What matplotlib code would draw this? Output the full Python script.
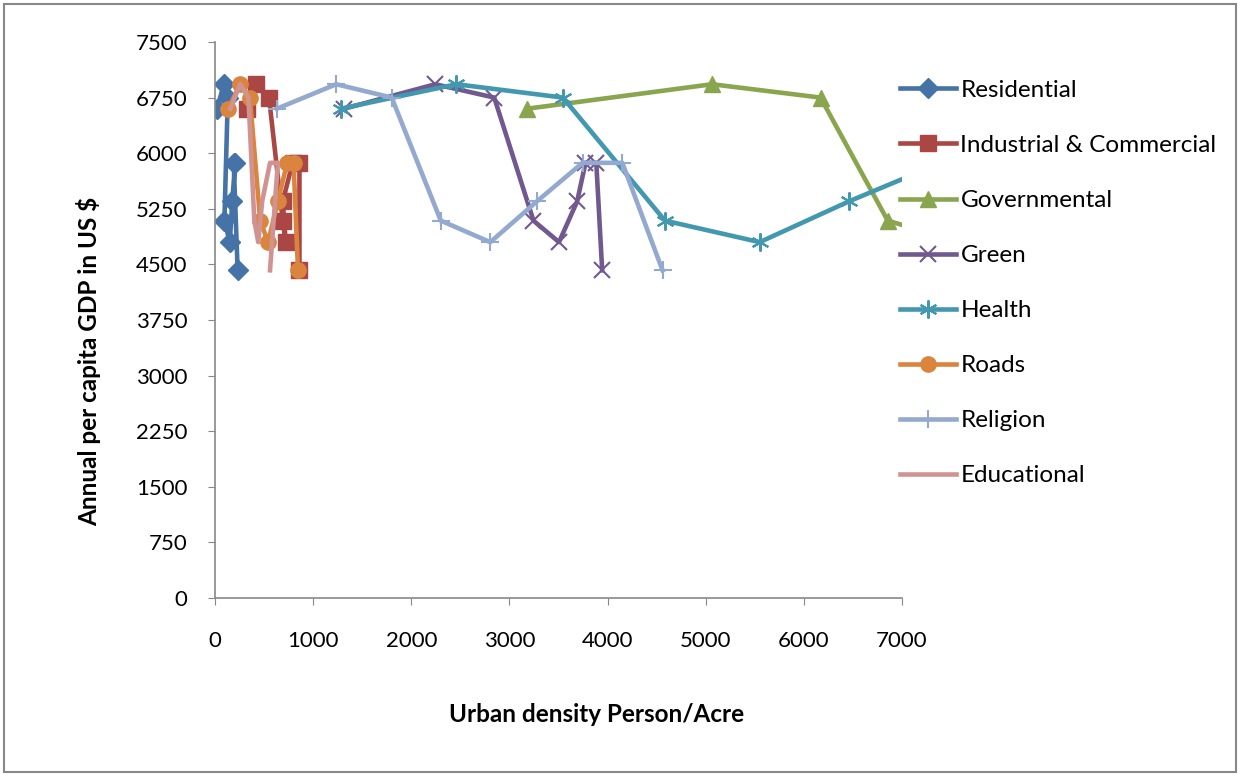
import matplotlib.pyplot as plt
from matplotlib.patches import Rectangle

plt.rcParams['font.family'] = ['Lato', 'DejaVu Sans']

# GDP values (same sequence for every land use)
gdp = [6600, 6930, 6750, 5090, 4800, 5350, 5870, 5870, 4420]

# urban density per land use, Person/Acre
residential = [20, 90, 130, 95, 150, 175, 205, 190, 230]
industrial = [330, 420, 550, 690, 720, 690, 790, 860, 860]
governmental = [3180, 5065, 6170, 6855, 7600, 8200, 8900, 9300, 9900]
green = [1315, 2245, 2845, 3245, 3505, 3690, 3775, 3885, 3945]
health = [1280, 2460, 3545, 4585, 5550, 6460, 7400, 7800, 8300]
roads = [135, 255, 355, 460, 540, 640, 735, 800, 845]
religion = [630, 1235, 1800, 2300, 2805, 3280, 3745, 4150, 4560]
educational = [155, 255, 340, 400, 440, 480, 560, 640, 560]

series = [
    ('Residential', residential, '#4572A7', 'D', 10, 1),
    ('Industrial & Commercial', industrial, '#AA4643', 's', 11, 1),
    ('Governmental', governmental, '#89A54E', '^', 11, 1),
    ('Green', green, '#71588F', 'x', 11, 1.5),
    ('Health', health, '#4198AF', (6, 2, 0), 13, 1.5),
    ('Roads', roads, '#DB843D', 'o', 11, 1),
    ('Religion', religion, '#93A9CF', '+', 13, 1.5),
    ('Educational', educational, '#D19392', None, 0, 1),
]

fig = plt.figure(figsize=(12.41, 7.76), dpi=100)
ax = fig.add_axes([0.1733, 0.2294, 0.5535, 0.7165])

for name, xs, col, mk, ms, mew in series:
    ax.plot(xs, gdp, color=col, lw=3.3, marker=mk, markersize=ms,
            markeredgewidth=mew, markeredgecolor=col, markerfacecolor=col,
            label=name)

ax.set_xlim(0, 7000)
ax.set_ylim(0, 7500)
ax.set_xticks(range(0, 7001, 1000))
ax.set_yticks(range(0, 7501, 750))
ax.tick_params(labelsize=16, colors='#888888', labelcolor='black', length=5)
ax.tick_params(axis='x', pad=19)
ax.tick_params(axis='y', pad=15)
for s in ['top', 'right']:
    ax.spines[s].set_visible(False)
for s in ['left', 'bottom']:
    ax.spines[s].set_color('#888888')
    ax.spines[s].set_linewidth(1.2)

ax.set_xlabel('Urban density Person/Acre', fontsize=17.5, fontweight='bold', labelpad=37)
ax.set_ylabel('Annual per capita GDP in US $', fontsize=17.5, fontweight='bold', labelpad=25)
# titles sit off-centre in the original
ax.xaxis.label.set_x(0.556)
ax.yaxis.label.set_y(0.426)

ax.legend(loc='upper left', bbox_to_anchor=(0.725, 0.897), bbox_transform=fig.transFigure,
          frameon=False, fontsize=17.5, labelspacing=1.4, handlelength=2.3,
          handletextpad=0.2, borderaxespad=0, borderpad=0)

fig.patches.append(Rectangle((0.003, 0.005), 0.993, 0.99, transform=fig.transFigure,
                             fill=False, edgecolor='#888888', lw=1.5))

fig.savefig('out.png', dpi=100)
